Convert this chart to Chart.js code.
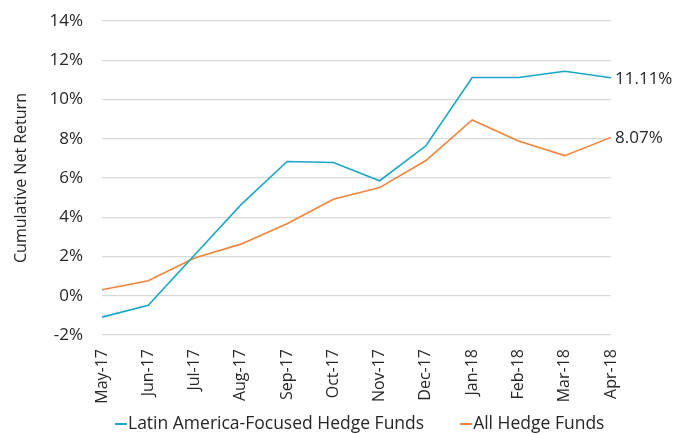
<!DOCTYPE html>
<html lang="en">
<head>
<meta charset="utf-8">
<title>Cumulative Net Return</title>
<script src="https://cdn.jsdelivr.net/npm/chart.js@4.4.0/dist/chart.umd.min.js"></script>
<style>
  html, body { margin: 0; padding: 0; background: #fff; }
  #wrap { width: 688px; height: 434px; }
</style>
</head>
<body>
<div id="wrap"><canvas id="chart" width="688" height="434"></canvas></div>
<script>
// months along the x axis
const months = ['May-17', 'Jun-17', 'Jul-17', 'Aug-17', 'Sep-17', 'Oct-17',
                'Nov-17', 'Dec-17', 'Jan-18', 'Feb-18', 'Mar-18', 'Apr-18'];

// cumulative net return, percent
const latamFunds = [-1.09, -0.49, 2.08, 4.63, 6.84, 6.79, 5.86, 7.64, 11.12, 11.12, 11.44, 11.11];
const allFunds   = [0.31, 0.76, 1.92, 2.63, 3.67, 4.92, 5.51, 6.89, 8.96, 7.89, 7.14, 8.07];

const seriesNames = ['Latin America-Focused Hedge Funds', 'All Hedge Funds'];
const endLabels = ['11.11%', '8.07%'];

const teal = '#1aa6c8';
const orange = '#f0843c';
const textColor = '#262626';
const fontFamily = '"Open Sans"';

// writes the last value just right of each line's end
const endLabelPlugin = {
  id: 'endLabels',
  afterDatasetsDraw(chart) {
    const ctx = chart.ctx;
    ctx.save();
    ctx.font = '17px ' + fontFamily;
    ctx.fillStyle = textColor;
    ctx.textBaseline = 'middle';
    ctx.textAlign = 'left';
    chart.data.datasets.forEach((ds, i) => {
      const pts = chart.getDatasetMeta(i).data;
      const last = pts[pts.length - 1];
      ctx.fillText(endLabels[i], last.x + 4, last.y + 1);
    });
    ctx.restore();
  }
};

// bottom legend: short line right against the text, wide gap between items
const lineLegendPlugin = {
  id: 'lineLegend',
  afterDraw(chart) {
    const ctx = chart.ctx;
    ctx.save();
    ctx.font = '17.5px ' + fontFamily;
    ctx.textBaseline = 'middle';
    ctx.textAlign = 'left';
    let x = 115;
    const y = 424;
    chart.data.datasets.forEach(ds => {
      ctx.strokeStyle = ds.borderColor;
      ctx.lineWidth = 2;
      ctx.beginPath();
      ctx.moveTo(x, y);
      ctx.lineTo(x + 12, y);
      ctx.stroke();
      ctx.fillStyle = textColor;
      ctx.fillText(ds.label, x + 13, y);
      x += 13 + ctx.measureText(ds.label).width + 36;
    });
    ctx.restore();
  }
};

const ctx = document.getElementById('chart').getContext('2d');
new Chart(ctx, {
  type: 'line',
  data: {
    labels: months,
    datasets: [{
      label: seriesNames[0],
      data: latamFunds,
      borderColor: teal,
      backgroundColor: teal,
      borderWidth: 1.6,
      pointRadius: 0,
      tension: 0,
      fill: false
    }, {
      label: seriesNames[1],
      data: allFunds,
      borderColor: orange,
      backgroundColor: orange,
      borderWidth: 1.6,
      pointRadius: 0,
      tension: 0,
      fill: false
    }]
  },
  options: {
    responsive: false,
    animation: false,
    layout: { padding: { top: 21, right: 0, left: 9, bottom: 24 } },
    plugins: {
      legend: { display: false },
      tooltip: { enabled: false }
    },
    scales: {
      x: {
        offset: false,
        afterFit(scale) { scale.height = 75; },
        grid: { display: false, drawTicks: false },
        border: { display: false },
        ticks: {
          minRotation: 90,
          maxRotation: 90,
          padding: 14,
          color: textColor,
          font: { family: 'Open Sans', size: 16 }
        }
      },
      y: {
        min: -2,
        max: 14,
        afterFit(scale) {
          scale.width = 93;
          scale.paddingTop = 0;
          scale.paddingBottom = 0;
        },
        grid: { color: '#d9d9d9', lineWidth: 1.3, drawTicks: false },
        border: { display: false },
        ticks: {
          stepSize: 2,
          padding: 19,
          color: textColor,
          font: { family: 'Open Sans', size: 17 },
          callback: v => v + '%'
        },
        title: {
          display: true,
          text: 'Cumulative Net Return',
          color: textColor,
          font: { family: 'Open Sans', size: 16 },
          padding: { top: 3, bottom: 0 }
        }
      },
      // empty box on the right that leaves room for the end labels
      yr: {
        position: 'right',
        min: -2,
        max: 14,
        afterFit(scale) { scale.width = 77; },
        grid: { display: false, drawTicks: false },
        border: { display: false },
        ticks: { display: false }
      }
    }
  },
  plugins: [endLabelPlugin, lineLegendPlugin]
});
</script>
</body>
</html>
